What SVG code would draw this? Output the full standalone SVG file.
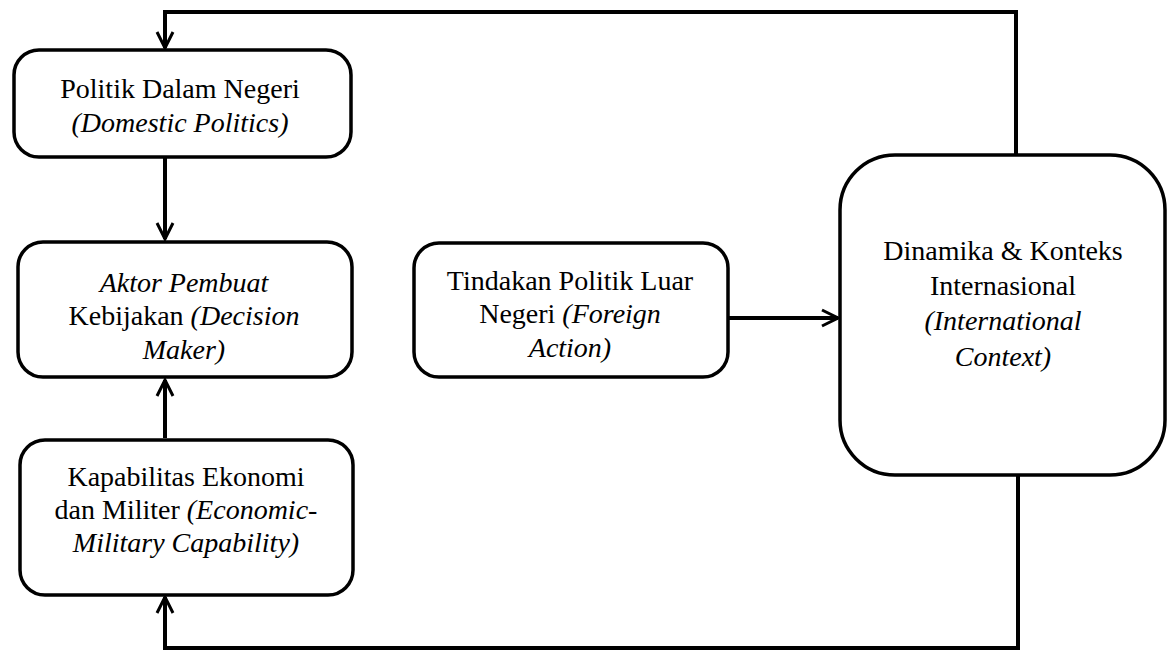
<svg xmlns="http://www.w3.org/2000/svg" width="1169" height="657" viewBox="0 0 1169 657">
<style>
.box{fill:#fff;stroke:#000;stroke-width:3.5}
.t{font-family:"Liberation Serif","Times New Roman",serif;font-size:28px;text-anchor:middle;fill:#000}
.i{font-style:italic}
.c{fill:none;stroke:#000;stroke-width:4}
</style>
<defs>
<marker id="ah" viewBox="0 0 20 20" refX="18" refY="10" markerWidth="20" markerHeight="20" markerUnits="userSpaceOnUse" orient="auto">
<path d="M2,2 L18,10 L2,18" fill="none" stroke="#000" stroke-width="3"/>
</marker>
</defs>
<g id="connectors">
<path class="c" d="M1016,155 V12 H165 V48" marker-end="url(#ah)"/>
<path class="c" d="M165,157 V239" marker-end="url(#ah)"/>
<path class="c" d="M165,438 V380" marker-end="url(#ah)"/>
<path class="c" d="M728,318 H838" marker-end="url(#ah)"/>
<path class="c" d="M1018,475 V648 H165 V597" marker-end="url(#ah)"/>
</g>
<g id="n1">
<rect class="box" x="14" y="50" width="337" height="107" rx="25"/>
<text class="t" x="180" y="98">Politik Dalam Negeri</text>
<text class="t i" x="180" y="132">(Domestic Politics)</text>
</g>
<g id="n2">
<rect class="box" x="18" y="242" width="334" height="135" rx="25"/>
<text class="t i" x="184" y="292">Aktor Pembuat</text>
<text class="t" x="184" y="325">Kebijakan <tspan class="i">(Decision</tspan></text>
<text class="t i" x="184" y="359">Maker)</text>
</g>
<g id="n3">
<rect class="box" x="20" y="440" width="333" height="155" rx="25"/>
<text class="t" x="186" y="486">Kapabilitas Ekonomi</text>
<text class="t" x="186" y="519">dan Militer <tspan class="i">(Economic-</tspan></text>
<text class="t i" x="186" y="552">Military Capability)</text>
</g>
<g id="n4">
<rect class="box" x="414" y="243" width="314" height="134" rx="25"/>
<text class="t" x="570" y="290">Tindakan Politik Luar</text>
<text class="t" x="570" y="323">Negeri <tspan class="i">(Foreign</tspan></text>
<text class="t i" x="570" y="357">Action)</text>
</g>
<g id="n5">
<rect class="box" x="840" y="155" width="325" height="320" rx="55"/>
<text class="t" x="1003" y="260">Dinamika &amp; Konteks</text>
<text class="t" x="1003" y="295">Internasional</text>
<text class="t i" x="1003" y="330">(International</text>
<text class="t i" x="1003" y="366">Context)</text>
</g>
</svg>
